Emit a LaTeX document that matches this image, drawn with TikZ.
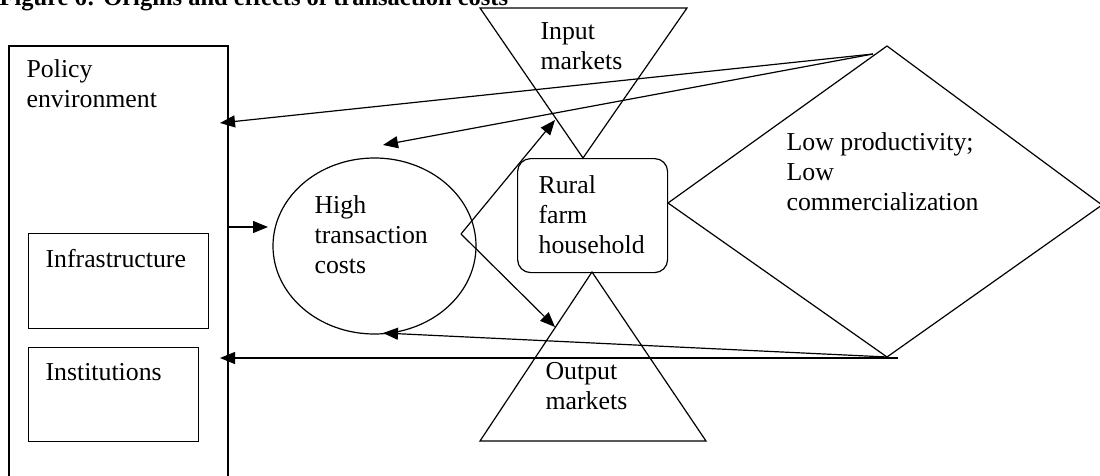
\documentclass[tikz,border=0pt]{standalone}
\usepackage{fontspec}
\setmainfont{Liberation Serif}
\usetikzlibrary{arrows.meta,shapes.geometric}
\begin{document}
\begin{tikzpicture}[x=1pt,y=-1pt,
  line width=1.2pt,
  txt/.style={font=\fontsize{25.8}{30}\selectfont, inner sep=0pt, align=left, anchor=base west},
  boxline/.style={draw, line width=1.2pt},
  arr/.style={-{Triangle[length=15pt,width=12pt]}, line width=1.2pt}]
\useasboundingbox (0,0) rectangle (1100,476);
\clip (0,0) rectangle (1100,476);

% title (multi-line text nodes below are anchored at their last baseline)
\node[font=\fontsize{24.5}{28}\selectfont\bfseries, inner sep=0pt, anchor=base west] (title) at (-1,6) {Figure 6: Origins and effects of transaction costs};

% policy environment column
\draw[boxline] (9,500) -- (9,46) -- (228,46) -- (228,500);
\node[txt] (poltxt) at (26,108) {Policy\\environment};
\node[boxline, inner sep=0pt, minimum width=180pt, minimum height=95pt, anchor=north west] (infra) at (28,233) {};
\node[txt] (infratxt) at (45,267) {Infrastructure};
\node[boxline, inner sep=0pt, minimum width=170pt, minimum height=94pt, anchor=north west] (inst) at (28,347) {};
\node[txt] (insttxt) at (45,380) {Institutions};

% high transaction costs
\node[draw, ellipse, inner sep=0pt, minimum width=203pt, minimum height=176pt] (htc) at (374.5,246) {};
\node[txt] (htctxt) at (314,273) {High\\transaction\\costs};

% rural farm household
\node[draw, rounded corners=13pt, inner sep=0pt, minimum width=150pt, minimum height=114pt, anchor=north west] (rfh) at (517,158) {};
\node[txt] (rfhtxt) at (538,253) {Rural\\farm\\household};

% input markets (inverted triangle)
\coordinate (inL) at (480,8);
\coordinate (inR) at (687,8);
\coordinate (inB) at (583,158);
\draw (inL) -- (inR) -- (inB) -- cycle;
\node[txt] (intxt) at (540,70) {Input\\markets};

% output markets (triangle)
\coordinate (outT) at (592,272);
\coordinate (outL) at (480,441);
\coordinate (outR) at (706,441);
\draw (outT) -- (outR) -- (outL) -- cycle;
\node[txt] (outtxt) at (545,409) {Output\\markets};

% low productivity diamond
\coordinate (dT) at (887,46);
\coordinate (dR) at (1102,205);
\coordinate (dB) at (887,357);
\coordinate (dL) at (668,203);
\draw (dT) -- (dR) -- (dB) -- (dL) -- cycle;
\node[txt] (lowtxt) at (786,210) {Low productivity;\\Low\\commercialization};

% connectors
\coordinate (fb) at (873,54);
\coordinate (polA) at (220,123);
\coordinate (htcA) at (383,145);
\draw[arr] (fb) -- (polA);
\draw[arr] (fb) -- (htcA);

\coordinate (polB) at (220,358);
\coordinate (htcB) at (383,333);
\coordinate (dBx) at (898,358);
\draw[arr] (dBx) -- (polB);
\draw[arr] (dB) -- (htcB);

\coordinate (polE) at (228,227);
\coordinate (htcW) at (268,227);
\draw[arr] (polE) -- (htcW);

\coordinate (fork) at (461,234);
\coordinate (toIn) at (555,120);
\coordinate (toOut) at (555,327);
\draw[arr] (fork) -- (toIn);
\draw[arr] (fork) -- (toOut);
\end{tikzpicture}
\end{document}
